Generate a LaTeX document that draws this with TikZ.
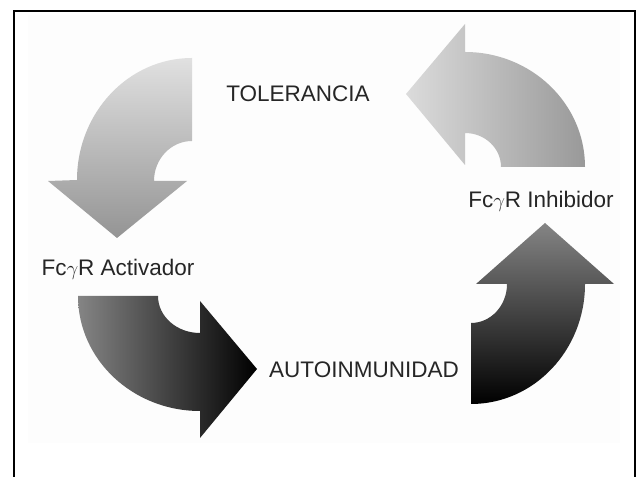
\documentclass[tikz,border=0pt]{standalone}
\usepackage{fontspec}
\setmainfont{Liberation Sans}

\begin{document}
\begin{tikzpicture}[
    x=1pt, y=1pt,
    lbl/.style={font=\fontsize{22.5}{27}\selectfont, text=black!85, anchor=base, inner sep=0pt},
    frame/.style={line width=2pt, black},
    fadedown/.style={top color=black!12, bottom color=black!42, draw=none},
    fadeleft/.style={left color=black!14, right color=black!40, draw=none},
    darkright/.style={left color=black!48, right color=black, draw=none},
    darkup/.style={top color=black!48, bottom color=black, draw=none}
  ]
    \useasboundingbox (0,0) rectangle (639,476);
    \fill[black!0.8] (28,33) rectangle (620,461);
    \draw[frame] (14,-2) -- (14,465) -- (635,465) -- (635,-2);

    % labels
    \node[lbl] (tol) at (298,374) {TOLERANCIA};
    \node[lbl] (inh) at (541,268) {Fc$\gamma$R Inhibidor};
    \node[lbl] (act) at (118,200) {Fc$\gamma$R Activador};
    \node[lbl] (auto) at (364,98) {AUTOINMUNIDAD};

    % centres of the four bent arrows
    \coordinate (c1) at (192,295);
    \coordinate (c2) at (465,309);
    \coordinate (c3) at (200,180);
    \coordinate (c4) at (471,192);

    % tolerancia -> activador
    \shade[fadedown] (192,418) arc[start angle=90, end angle=180, x radius=115pt, y radius=122pt]
      -- (48,295) -- (117,238) -- (187,295) -- (154,295)
      arc[start angle=180, end angle=90, x radius=38pt, y radius=40pt] -- cycle;

    % inhibidor -> tolerancia
    \shade[fadeleft] (585,309) arc[start angle=0, end angle=90, x radius=120pt, y radius=115pt]
      -- (465,452) -- (406,382) -- (465,311) -- (465,343)
      arc[start angle=90, end angle=0, x radius=36pt, y radius=34pt] -- cycle;

    % activador -> autoinmunidad
    \shade[darkright] (78,180) arc[start angle=180, end angle=270, x radius=122pt, y radius=115pt]
      -- (200,38) -- (257,107) -- (200,175) -- (200,143)
      arc[start angle=270, end angle=180, x radius=42pt, y radius=37pt] -- cycle;

    % autoinmunidad -> inhibidor
    \shade[darkup] (471,72) arc[start angle=270, end angle=360, x radius=114pt, y radius=120pt]
      -- (614,192) -- (545,253) -- (476,192) -- (507,192)
      arc[start angle=0, end angle=-90, x radius=36pt, y radius=39pt] -- cycle;
  \end{tikzpicture}
\end{document}
